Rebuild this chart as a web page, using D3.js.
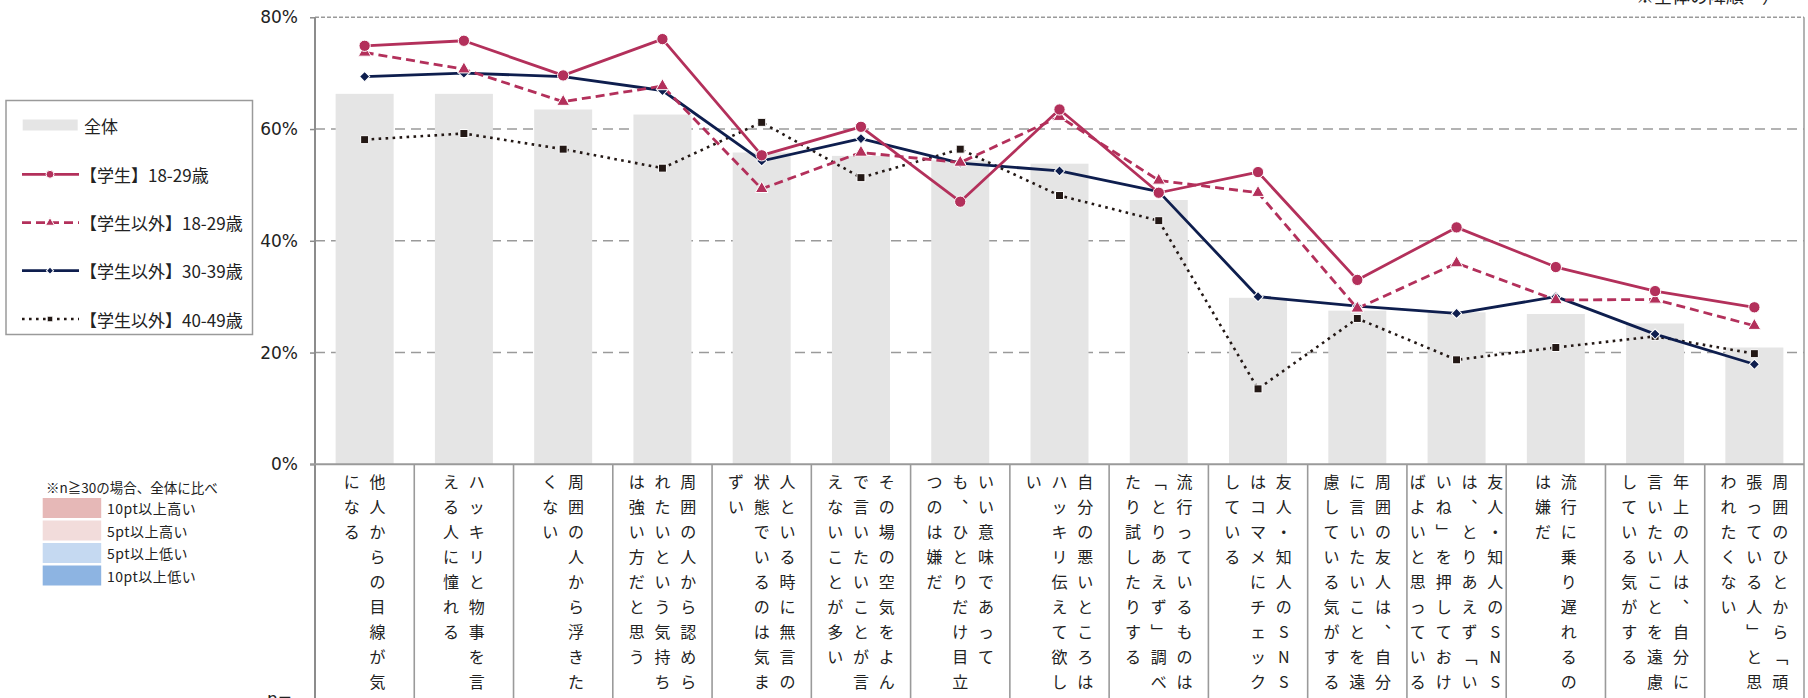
<!DOCTYPE html>
<html><head><meta charset="utf-8">
<script src="https://cdn.jsdelivr.net/npm/d3@7"></script>
<style>
html,body{margin:0;padding:0;background:#fff;}
svg{display:block;}
</style></head>
<body>
<svg id="chart" width="1808" height="698"></svg>
<script>
// ---------- data ----------
const categories = [
  "他人からの目線が気になる",
  "ハッキリと物事を言える人に憧れる",
  "周囲の人から浮きたくない",
  "周囲の人から認められたいという気持ちは強い方だと思う",
  "人といる時に無言の状態でいるのは気まずい",
  "その場の空気をよんで言いたいことが言えないことが多い",
  "いい意味であっても、ひとりだけ目立つのは嫌だ",
  "自分の悪いところはハッキリ伝えて欲しい",
  "流行っているものは「とりあえず」調べたり試したりする",
  "友人・知人のSNSはコマメにチェックしている",
  "周囲の友人は、自分に言いたいことを遠慮している気がする",
  "友人・知人のSNSは、とりあえず「いいね」を押しておけばよいと思っている",
  "流行に乗り遅れるのは嫌だ",
  "年上の人は、自分に言いたいことを遠慮している気がする",
  "周囲のひとから「頑張っている人」と思われたくない"
];
// vertical label columns (right to left)
const labelColumns = [
  ["他人からの目線が気","になる"],
  ["ハッキリと物事を言","える人に憧れる"],
  ["周囲の人から浮きた","くない"],
  ["周囲の人から認めら","れたいという気持ち","は強い方だと思う"],
  ["人といる時に無言の","状態でいるのは気ま","ずい"],
  ["その場の空気をよん","で言いたいことが言","えないことが多い"],
  ["いい意味であって","も、ひとりだけ目立","つのは嫌だ"],
  ["自分の悪いところは","ハッキリ伝えて欲し","い"],
  ["流行っているものは","「とりあえず」調べ","たり試したりする"],
  ["友人・知人のSNS","はコマメにチェック","している"],
  ["周囲の友人は、自分","に言いたいことを遠","慮している気がする"],
  ["友人・知人のSNS","は、とりあえず「い","いね」を押しておけ","ばよいと思っている"],
  ["流行に乗り遅れるの","は嫌だ"],
  ["年上の人は、自分に","言いたいことを遠慮","している気がする"],
  ["周囲のひとから「頑","張っている人」と思","われたくない"]
];
const totalValues      = [66.3,66.3,63.5,62.6,55.8,55.2,54.4,53.8,47.3,29.8,27.5,27.2,26.9,25.2,20.9];
const student1829      = [74.9,75.8,69.6,76.1,55.3,60.4,47.0,63.5,48.6,52.3,33.0,42.4,35.3,31.0,28.1];
const nonStudent1829   = [73.7,70.7,64.9,67.7,49.3,55.8,54.0,62.2,50.8,48.6,27.9,36.0,29.4,29.5,24.8];
const nonStudent3039   = [69.4,70.0,69.4,66.9,54.3,58.3,53.9,52.5,48.8,30.0,28.3,27.0,30.0,23.3,17.9];
const nonStudent4049   = [58.1,59.2,56.4,53.0,61.2,51.3,56.4,48.1,43.6,13.5,26.1,18.7,20.9,22.9,19.8];
const yTicks = [0,20,40,60,80];
const seriesNames = ["全体","【学生】18-29歳","【学生以外】18-29歳","【学生以外】30-39歳","【学生以外】40-49歳"];
const highlightNote = "※n≧30の場合、全体に比べ";
const highlightLabels = ["10pt以上高い","5pt以上高い","5pt以上低い","10pt以上低い"];
const highlightColors = ["#E6B8B7","#F2DCDB","#C5D9F1","#8DB4E2"];
const topRightNote = "※全体の降順";

// ---------- setup ----------
const svg = d3.select("#chart");
const pLeft = 315, pRight = 1804, pTop = 17.3, pBottom = 464.3;
const x = d3.scaleBand().domain(d3.range(categories.length)).range([pLeft, pRight]).padding(0);
const y = d3.scaleLinear().domain([0, 80]).range([pBottom, pTop]);
const cx = i => x(i) + x.bandwidth() / 2;
const JP = "'Noto Sans CJK JP','Noto Sans',sans-serif";
const NUM = "'DejaVu Sans',Verdana,sans-serif";

// top-right note (cropped in reference)
svg.append("text").attr("x", 1636).attr("y", 3).attr("text-anchor", "start")
  .attr("font-family", JP).attr("font-size", 18).attr("fill", "#222").text(topRightNote + "　）");

// gridlines
svg.append("g").selectAll("line").data(yTicks.filter(d => d > 0)).join("line")
  .attr("x1", pLeft).attr("x2", pRight).attr("y1", d => y(d)).attr("y2", d => y(d))
  .attr("stroke", "#9a9a9a").attr("stroke-width", 1.4)
  .attr("stroke-dasharray", d => d === 80 ? "4,2" : "10,6");

// bars (全体)
const barW = 58;
svg.append("g").selectAll("rect").data(totalValues).join("rect")
  .attr("x", (d, i) => cx(i) - barW / 2).attr("width", barW)
  .attr("y", d => y(d)).attr("height", d => y(0) - y(d))
  .attr("fill", "#E5E5E5");

// right border
svg.append("line").attr("x1", pRight).attr("x2", pRight).attr("y1", pTop).attr("y2", 698)
  .attr("stroke", "#9a9a9a").attr("stroke-width", 1.5);

// y axis
const yAxis = d3.axisLeft(y).tickValues(yTicks).tickFormat(d => d + "%").tickSizeInner(5).tickSizeOuter(0).tickPadding(12);
const gy = svg.append("g").attr("transform", `translate(${pLeft},0)`).call(yAxis);
gy.select(".domain").remove();
gy.selectAll(".tick line").attr("stroke", "#8c8c8c").attr("stroke-width", 1.5);
gy.selectAll(".tick text").attr("font-family", NUM).attr("font-size", 17).attr("fill", "#222");
svg.append("line").attr("x1", pLeft).attr("x2", pLeft).attr("y1", pTop).attr("y2", 698)
  .attr("stroke", "#8c8c8c").attr("stroke-width", 2);
// baseline
svg.append("line").attr("x1", pLeft - 5).attr("x2", pRight).attr("y1", y(0)).attr("y2", y(0))
  .attr("stroke", "#9a9a9a").attr("stroke-width", 2);

// category separators in the label table
svg.append("g").selectAll("line").data(d3.range(1, categories.length)).join("line")
  .attr("x1", i => x(i)).attr("x2", i => x(i)).attr("y1", y(0)).attr("y2", 698)
  .attr("stroke", "#9a9a9a").attr("stroke-width", 1.6);

// vertical category labels
const vertMap = {"「": "﹁", "」": "﹂", "、": "︑"};
const colGap = 25.8, rowGap = 25, row0 = 481;
const labelG = svg.append("g").attr("font-family", JP).attr("font-size", 16).attr("fill", "#222");
labelColumns.forEach((cols, i) => {
  const n = cols.length;
  cols.forEach((col, j) => {
    const colX = cx(i) + ((n - 1) / 2 - j) * colGap;
    labelG.append("g").selectAll("text").data(Array.from(col)).join("text")
      .attr("x", colX).attr("y", (ch, k) => row0 + k * rowGap)
      .attr("text-anchor", "middle").attr("dominant-baseline", "central")
      .text(ch => vertMap[ch] || ch);
  });
});

// n= row (cropped)
svg.append("text").attr("x", 267).attr("y", 705).attr("font-family", NUM).attr("font-size", 17).attr("fill", "#222").text("n=");

// ---------- lines ----------
const series = [
  {name: seriesNames[1], values: student1829, color: "#B3305B", dash: null, width: 2.8, marker: "circle"},
  {name: seriesNames[2], values: nonStudent1829, color: "#B3305B", dash: "9,5", width: 2.8, marker: "triangle"},
  {name: seriesNames[3], values: nonStudent3039, color: "#0E1E4E", dash: null, width: 2.8, marker: "diamond"},
  {name: seriesNames[4], values: nonStudent4049, color: "#231815", dash: "2.6,4.4", width: 2.6, marker: "square"}
];
function markerPath(type, scale) {
  const s = scale || 1;
  if (type === "circle") return d3.symbol(d3.symbolCircle, 100 * s * s)();
  if (type === "triangle") return d3.symbol(d3.symbolTriangle, 70 * s * s)();
  if (type === "diamond") return d3.symbol(d3.symbolSquare, 52 * s * s)();
  return d3.symbol(d3.symbolSquare, 64 * s * s)();
}
const line = d3.line().x((d, i) => cx(i)).y(d => y(d));
const drawOrder = [3, 2, 1, 0];
drawOrder.forEach(k => {
  const s = series[k];
  svg.append("path").datum(s.values).attr("d", line).attr("fill", "none")
    .attr("stroke", s.color).attr("stroke-width", s.width)
    .attr("stroke-dasharray", s.dash).attr("stroke-linejoin", "round");
});
drawOrder.forEach(k => {
  const s = series[k];
  svg.append("g").selectAll("path").data(s.values).join("path")
    .attr("d", markerPath(s.marker))
    .attr("transform", (d, i) => `translate(${cx(i)},${y(d)})` + (s.marker === "diamond" ? " rotate(45)" : ""))
    .attr("fill", s.color).attr("stroke", "#fff").attr("stroke-width", 1);
});

// ---------- legend ----------
const lg = svg.append("g");
lg.append("rect").attr("x", 6).attr("y", 100.5).attr("width", 246.5).attr("height", 234)
  .attr("fill", "#fff").attr("stroke", "#9a9a9a").attr("stroke-width", 1.5);
const legY = [125, 174.3, 222.7, 270.7, 319];
lg.append("rect").attr("x", 22.7).attr("y", legY[0] - 5.5).attr("width", 55).attr("height", 11).attr("fill", "#E5E5E5");
lg.append("text").attr("x", 84).attr("y", legY[0]).attr("dominant-baseline", "central")
  .attr("font-family", JP).attr("font-size", 17).attr("fill", "#222").text(seriesNames[0]);
series.forEach((s, k) => {
  const yy = legY[k + 1];
  lg.append("line").attr("x1", 22).attr("x2", 79).attr("y1", yy).attr("y2", yy)
    .attr("stroke", s.color).attr("stroke-width", s.width).attr("stroke-dasharray", s.dash);
  lg.append("path").attr("d", markerPath(s.marker, 0.7))
    .attr("transform", `translate(50,${yy})` + (s.marker === "diamond" ? " rotate(45)" : ""))
    .attr("fill", s.color).attr("stroke", "#fff").attr("stroke-width", 1);
  lg.append("text").attr("x", 80).attr("y", yy).attr("dominant-baseline", "central")
    .attr("font-family", JP).attr("font-size", 17).attr("fill", "#222").text(s.name);
});

// highlight legend
const hg = svg.append("g").attr("font-family", JP).attr("fill", "#222");
hg.append("text").attr("x", 46).attr("y", 487).attr("dominant-baseline", "central")
  .attr("font-size", 13.5).text(highlightNote);
const hY = [498, 520.5, 543, 565.5];
highlightLabels.forEach((t, k) => {
  hg.append("rect").attr("x", 42.7).attr("y", hY[k]).attr("width", 58.5).attr("height", 20).attr("fill", highlightColors[k]);
  hg.append("text").attr("x", 107).attr("y", hY[k] + 10).attr("dominant-baseline", "central")
    .attr("font-size", 14).attr("letter-spacing", 0.5).text(t);
});
</script>
</body></html>
